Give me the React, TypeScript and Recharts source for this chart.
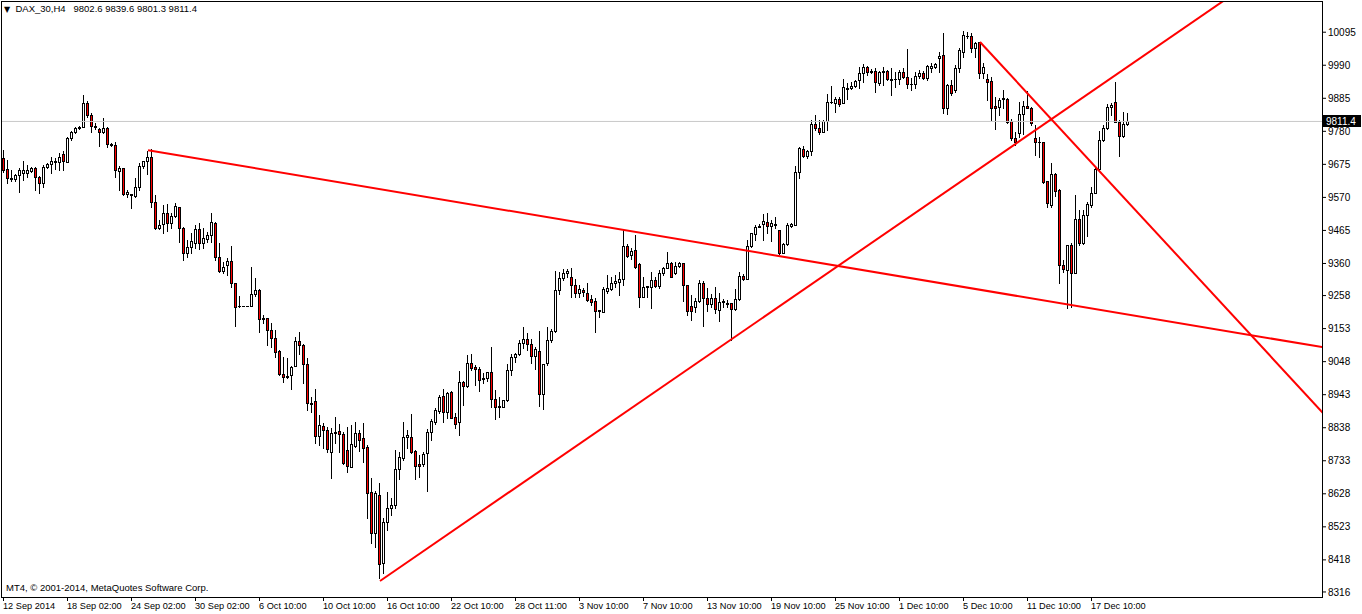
import { ComposedChart, Bar, XAxis, YAxis, ReferenceLine } from "recharts";

// DAX_30 H4 candles (bar 0 = 12 Sep 2014)
const opens = [
  9695, 9660, 9628, 9628, 9641, 9647, 9647, 9654, 9663, 9635,
  9616, 9666, 9676, 9682, 9682, 9708, 9682, 9759, 9778, 9790,
  9794, 9870, 9832, 9797, 9787, 9778, 9790, 9740, 9736, 9654,
  9663, 9581, 9581, 9574, 9603, 9670, 9686, 9698, 9555, 9473,
  9485, 9520, 9489, 9511, 9539, 9473, 9393, 9412, 9425, 9469,
  9425, 9438, 9450, 9489, 9380, 9336, 9355, 9368, 9298, 9225,
  9225, 9225, 9225, 9263, 9276, 9187, 9187, 9149, 9123, 9082,
  9009, 9002, 9006, 9034, 9114, 9101, 9041, 8917, 8923, 8812,
  8844, 8831, 8761, 8821, 8828, 8818, 8767, 8713, 8780, 8821,
  8806, 8777, 8634, 8504, 8624, 8408, 8539, 8583, 8593, 8707,
  8742, 8809, 8809, 8764, 8723, 8723, 8758, 8825, 8856, 8891,
  8939, 8888, 8952, 8872, 8856, 8983, 8971, 9044, 9031, 9025,
  8996, 8996, 9015, 8929, 8904, 8904, 8926, 9022, 9063, 9072,
  9107, 9120, 9104, 9066, 9082, 8945, 9044, 9117, 9145, 9276,
  9314, 9330, 9317, 9292, 9266, 9276, 9266, 9247, 9241, 9212,
  9206, 9272, 9279, 9298, 9301, 9311, 9415, 9387, 9403, 9358,
  9253, 9285, 9285, 9307, 9288, 9330, 9346, 9361, 9330, 9352,
  9361, 9292, 9225, 9222, 9241, 9298, 9250, 9231, 9250, 9212,
  9238, 9234, 9234, 9215, 9247, 9320, 9311, 9415, 9454, 9476,
  9485, 9492, 9479, 9485, 9466, 9393, 9422, 9479, 9482, 9651,
  9724, 9701, 9717, 9803, 9790, 9778, 9813, 9872, 9870, 9882,
  9870, 9916, 9917, 9924, 9943, 9965, 9984, 9971, 9971, 9933,
  9968, 9971, 9946, 9945, 9946, 9968, 9952, 9929, 9930, 9956,
  9965, 9949, 9981, 9984, 10013, 10022, 9854, 9927, 9911, 9981,
  10032, 10082, 10083, 10044, 10064, 9965, 9946, 9940, 9860, 9857,
  9882, 9882, 9813, 9759, 9774, 9835, 9860, 9854, 9759, 9745,
  9746, 9622, 9546, 9644, 9593, 9355, 9339, 9419, 9330, 9501,
  9425, 9514, 9546, 9584, 9660, 9752, 9790, 9857, 9873, 9809,
  9765, 9802.6,
];

const highs = [
  9720, 9689, 9657, 9644, 9663, 9686, 9673, 9666, 9666, 9638,
  9673, 9679, 9698, 9695, 9711, 9717, 9762, 9781, 9794, 9797,
  9895, 9876, 9838, 9806, 9790, 9822, 9794, 9743, 9746, 9670,
  9663, 9593, 9581, 9632, 9679, 9686, 9717, 9724, 9577, 9498,
  9546, 9549, 9520, 9552, 9539, 9476, 9435, 9457, 9482, 9489,
  9473, 9460, 9520, 9492, 9425, 9365, 9377, 9415, 9298, 9257,
  9226, 9226, 9349, 9314, 9279, 9196, 9187, 9171, 9149, 9085,
  9063, 9060, 9034, 9126, 9142, 9104, 9060, 8936, 8961, 8879,
  8853, 8840, 8837, 8872, 8850, 8825, 8840, 8847, 8856, 8831,
  8853, 8783, 8678, 8637, 8662, 8551, 8634, 8615, 8767, 8761,
  8856, 8831, 8882, 8767, 8751, 8761, 8834, 8866, 8901, 8942,
  8961, 8952, 8955, 8885, 9018, 8987, 9069, 9072, 9037, 9031,
  9012, 9015, 9095, 8958, 8936, 8926, 9041, 9072, 9075, 9117,
  9158, 9139, 9120, 9095, 9145, 9041, 9158, 9152, 9336, 9333,
  9342, 9342, 9346, 9311, 9292, 9282, 9298, 9260, 9250, 9212,
  9285, 9323, 9317, 9323, 9333, 9466, 9422, 9409, 9450, 9361,
  9317, 9288, 9333, 9317, 9339, 9349, 9396, 9365, 9365, 9365,
  9361, 9292, 9260, 9250, 9307, 9304, 9282, 9263, 9285, 9266,
  9247, 9244, 9234, 9279, 9333, 9327, 9435, 9457, 9482, 9485,
  9517, 9520, 9498, 9508, 9466, 9425, 9489, 9489, 9670, 9730,
  9733, 9720, 9816, 9832, 9816, 9816, 9898, 9924, 9889, 9889,
  9946, 9933, 9937, 9943, 9984, 9994, 9987, 9978, 9981, 9971,
  9984, 9975, 9981, 9968, 9975, 9981, 10041, 9949, 9968, 9975,
  9971, 9990, 9997, 9997, 10032, 10092, 9930, 9943, 9990, 10044,
  10098, 10095, 10092, 10064, 10064, 9997, 9962, 9952, 9889, 9886,
  9911, 9886, 9819, 9778, 9873, 9876, 9908, 9857, 9800, 9762,
  9746, 9622, 9679, 9647, 9597, 9371, 9419, 9425, 9577, 9530,
  9530, 9555, 9603, 9666, 9781, 9800, 9867, 9870, 9937, 9816,
  9841, 9839.6,
];

const lows = [
  9651, 9616, 9622, 9622, 9587, 9625, 9635, 9651, 9593, 9584,
  9603, 9663, 9647, 9660, 9657, 9657, 9682, 9752, 9774, 9787,
  9794, 9825, 9778, 9787, 9733, 9774, 9730, 9733, 9635, 9593,
  9577, 9571, 9536, 9571, 9593, 9663, 9644, 9539, 9469, 9469,
  9457, 9463, 9473, 9508, 9428, 9371, 9380, 9393, 9409, 9406,
  9409, 9428, 9428, 9371, 9333, 9330, 9323, 9285, 9161, 9222,
  9225, 9225, 9225, 9257, 9142, 9171, 9101, 9095, 9063, 9006,
  8983, 8996, 8961, 9034, 9072, 8980, 8894, 8888, 8790, 8783,
  8774, 8761, 8678, 8790, 8761, 8723, 8697, 8713, 8777, 8764,
  8729, 8551, 8472, 8459, 8361, 8377, 8513, 8561, 8583, 8675,
  8736, 8774, 8758, 8675, 8682, 8716, 8637, 8799, 8850, 8885,
  8856, 8869, 8869, 8837, 8815, 8910, 8968, 9022, 8974, 8955,
  8980, 8987, 8904, 8866, 8872, 8904, 8923, 9006, 9047, 9069,
  9091, 9085, 9044, 9025, 8907, 8898, 9037, 9110, 9142, 9263,
  9307, 9317, 9253, 9253, 9253, 9257, 9241, 9228, 9142, 9190,
  9206, 9266, 9276, 9285, 9260, 9292, 9380, 9374, 9346, 9222,
  9253, 9253, 9219, 9285, 9282, 9323, 9346, 9317, 9327, 9349,
  9241, 9196, 9180, 9206, 9238, 9161, 9209, 9222, 9203, 9177,
  9222, 9222, 9117, 9212, 9244, 9307, 9311, 9412, 9435, 9476,
  9435, 9457, 9431, 9473, 9390, 9393, 9419, 9476, 9482, 9632,
  9698, 9695, 9705, 9784, 9771, 9778, 9784, 9870, 9841, 9860,
  9870, 9882, 9914, 9921, 9917, 9937, 9959, 9965, 9905, 9927,
  9927, 9943, 9895, 9921, 9930, 9949, 9917, 9911, 9917, 9949,
  9946, 9943, 9968, 9981, 9968, 9838, 9835, 9895, 9905, 9968,
  10016, 10076, 10032, 10016, 9949, 9949, 9879, 9816, 9787, 9832,
  9854, 9806, 9752, 9736, 9762, 9771, 9854, 9800, 9705, 9698,
  9617, 9539, 9539, 9574, 9298, 9333, 9219, 9222, 9330, 9419,
  9422, 9447, 9539, 9584, 9657, 9749, 9787, 9832, 9809, 9701,
  9762, 9801.3,
];

const closes = [
  9657, 9632, 9632, 9641, 9657, 9657, 9657, 9663, 9635, 9616,
  9666, 9676, 9686, 9686, 9698, 9686, 9759, 9778, 9790, 9794,
  9870, 9832, 9797, 9794, 9778, 9790, 9740, 9736, 9657, 9663,
  9581, 9587, 9577, 9603, 9670, 9686, 9698, 9555, 9473, 9482,
  9520, 9489, 9511, 9543, 9473, 9393, 9412, 9431, 9469, 9425,
  9441, 9450, 9492, 9380, 9336, 9349, 9368, 9298, 9222, 9225,
  9225, 9225, 9263, 9276, 9184, 9184, 9149, 9123, 9079, 9009,
  8999, 8999, 9031, 9114, 9101, 9041, 8917, 8914, 8812, 8847,
  8831, 8771, 8821, 8825, 8818, 8726, 8716, 8786, 8821, 8799,
  8774, 8631, 8504, 8631, 8405, 8539, 8583, 8593, 8707, 8745,
  8809, 8815, 8761, 8716, 8716, 8755, 8825, 8860, 8894, 8936,
  8888, 8948, 8869, 8850, 8983, 8971, 9044, 9028, 9025, 8990,
  8993, 9015, 8929, 8904, 8907, 8926, 9022, 9063, 9072, 9107,
  9120, 9104, 9066, 9088, 8945, 9041, 9117, 9145, 9276, 9314,
  9330, 9336, 9292, 9266, 9279, 9269, 9244, 9238, 9209, 9209,
  9279, 9282, 9298, 9304, 9311, 9415, 9384, 9400, 9349, 9253,
  9285, 9288, 9307, 9288, 9330, 9346, 9361, 9317, 9352, 9361,
  9292, 9209, 9209, 9241, 9298, 9250, 9231, 9250, 9215, 9238,
  9241, 9231, 9215, 9247, 9320, 9311, 9415, 9457, 9476, 9479,
  9495, 9479, 9489, 9482, 9393, 9422, 9482, 9485, 9651, 9727,
  9701, 9717, 9803, 9790, 9778, 9813, 9873, 9874, 9882, 9867,
  9921, 9918, 9924, 9940, 9965, 9984, 9968, 9968, 9937, 9968,
  9971, 9946, 9943, 9947, 9968, 9952, 9930, 9931, 9956, 9965,
  9949, 9987, 9987, 9994, 10019, 9854, 9927, 9902, 9981, 10038,
  10086, 10084, 10044, 10060, 9965, 9984, 9937, 9854, 9854, 9879,
  9886, 9809, 9759, 9746, 9835, 9860, 9854, 9806, 9746, 9747,
  9619, 9552, 9644, 9590, 9355, 9342, 9419, 9330, 9501, 9425,
  9514, 9549, 9584, 9660, 9752, 9790, 9857, 9863, 9809, 9765,
  9803, 9811.4,
];

const timeTickBars = [0, 16, 32, 48, 64, 80, 96, 112, 128, 144, 160, 176, 192, 208, 224, 240, 256, 272];
const timeTickLabels = [
  "12 Sep 2014", "18 Sep 02:00", "24 Sep 02:00", "30 Sep 02:00", "6 Oct 10:00", "10 Oct 10:00",
  "16 Oct 10:00", "22 Oct 10:00", "28 Oct 11:00", "3 Nov 10:00", "7 Nov 10:00", "13 Nov 10:00",
  "19 Nov 10:00", "25 Nov 10:00", "1 Dec 10:00", "5 Dec 10:00", "11 Dec 10:00", "17 Dec 10:00",
];

const priceTicks = [
  10095, 9990, 9885, 9780, 9675, 9570, 9465, 9360, 9258, 9153,
  9048, 8943, 8838, 8733, 8628, 8523, 8418, 8316,
];

// trend lines: two points each, in (bar index, price)
const trendLines = [
  { x1: 36.25, y1: 9720, x2: 335, y2: 9083 },
  { x1: 94.25, y1: 8351, x2: 315, y2: 10281 },
  { x1: 244.25, y1: 10064, x2: 335, y2: 8816 },
];

const lastPrice = closes[closes.length - 1];
const font = "'Liberation Sans', Arial, sans-serif";

const chartData = opens.map((o, i) => ({
  i,
  open: o,
  high: highs[i],
  low: lows[i],
  close: closes[i],
  range: [lows[i], highs[i]],
}));

function Candle(props: any) {
  const { x, y, width, height, payload } = props;
  if (x == null || y == null || !payload) return null;
  const top = Math.min(y, y + height);
  const h = Math.abs(height);
  const { open, high, low, close } = payload;
  const span = high - low;
  const toY = (p: number) => (span > 0 ? top + ((high - p) / span) * h : top);
  const cx = Math.round(x + width / 2);
  const yh = Math.round(toY(high));
  const yl = Math.round(toY(low));
  const bTop = Math.round(toY(Math.max(open, close)));
  const bBot = Math.round(toY(Math.min(open, close)));
  const up = close >= open;
  return (
    <g>
      <line x1={cx + 0.5} x2={cx + 0.5} y1={yh} y2={yl + 1} stroke="#000" strokeWidth={1} />
      {bBot - bTop >= 1 ? (
        <rect x={cx - 0.5} y={bTop + 0.5} width={2} height={bBot - bTop} fill={up ? "#fff" : "#ff0000"} stroke="#000" strokeWidth={1} />
      ) : (
        <line x1={cx - 1} x2={cx + 2} y1={bTop + 0.5} y2={bTop + 0.5} stroke="#000" strokeWidth={1} />
      )}
    </g>
  );
}

function TimeTick(props: any) {
  const { x, y, payload } = props;
  const idx = timeTickBars.indexOf(payload.value);
  const px = Math.round(x) + 0.5;
  return (
    <g>
      <line x1={px} x2={px} y1={y} y2={y + 4} stroke="#000" />
      <text x={x} y={y + 12} textAnchor="start" fontSize={9.2} fontFamily={font} fill="#000">
        {idx >= 0 ? timeTickLabels[idx] : ""}
      </text>
    </g>
  );
}

function LastPriceLabel(props: any) {
  const vb = props.viewBox;
  if (!vb) return null;
  const x = vb.x + vb.width + 1;
  const y = Math.round(vb.y);
  return (
    <g>
      <rect x={x} y={y - 6} width={38} height={12} fill="#000" />
      <text x={x + 3} y={y + 4} fill="#fff" fontSize={10} fontFamily={font}>
        {lastPrice.toFixed(1)}
      </text>
    </g>
  );
}

export default function App() {
  return (
    <div style={{ position: "absolute", left: 0, top: 0, width: 1362, height: 614, background: "#fff", overflow: "hidden" }}>
      <ComposedChart width={1362} height={614} data={chartData} margin={{ top: 2, right: 0, bottom: 0, left: 2 }}>
        <XAxis
          dataKey="i"
          type="number"
          domain={[-0.25, 329.75]}
          allowDataOverflow
          ticks={timeTickBars}
          interval={0}
          tick={<TimeTick />}
          tickLine={false}
          axisLine={false}
          tickSize={0}
          tickMargin={0}
          height={17}
        />
        <YAxis
          orientation="right"
          width={40}
          domain={[8300, 10191]}
          allowDataOverflow
          ticks={priceTicks}
          interval={0}
          tick={{ fontSize: 10, fill: "#000", fontFamily: font }}
          tickLine={{ stroke: "#000" }}
          tickSize={4}
          tickMargin={2}
          axisLine={false}
        />
        <ReferenceLine
          y={lastPrice}
          stroke="#c8c8c8"
          strokeWidth={1}
          label={(p: any) => <LastPriceLabel {...p} />}
        />
        <Bar dataKey="range" barSize={3} isAnimationActive={false} shape={(p: any) => <Candle {...p} />} />
        {trendLines.map((t, k) => (
          <ReferenceLine
            key={k}
            segment={[{ x: t.x1, y: t.y1 }, { x: t.x2, y: t.y2 }]}
            stroke="#ff0000"
            strokeWidth={2}
            ifOverflow="hidden"
          />
        ))}
      </ComposedChart>
      <div style={{ position: "absolute", left: 1, top: 1, width: 1320, height: 595, border: "1px solid #000", pointerEvents: "none" }} />
      <div style={{ position: "absolute", left: 4, top: 3, fontFamily: font, fontSize: 9.5, color: "#000", whiteSpace: "pre", lineHeight: "12px" }}>
        <span style={{ fontFamily: "'DejaVu Sans'", fontSize: 8 }}>▼</span>
        {"  DAX_30,H4   9802.6 9839.6 9801.3 9811.4"}
      </div>
      <div style={{ position: "absolute", left: 6, top: 582, fontFamily: font, fontSize: 9.5, color: "#000", whiteSpace: "pre", lineHeight: "12px" }}>
        MT4, © 2001-2014, MetaQuotes Software Corp.
      </div>
    </div>
  );
}
